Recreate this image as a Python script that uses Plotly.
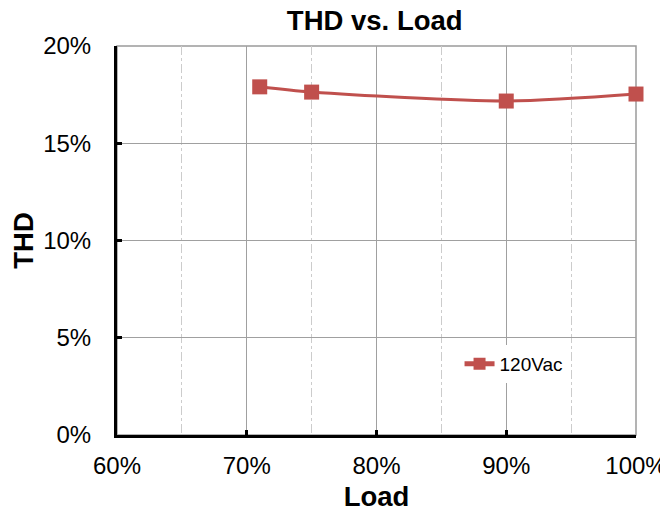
import plotly.graph_objects as go

load = [0.71, 0.75, 0.90, 1.00]
thd_120vac = [0.179, 0.1763, 0.1717, 0.1753]
series_name = "120Vac"
x_ticks = [0.6, 0.7, 0.8, 0.9, 1.0]
y_ticks = [0.0, 0.05, 0.10, 0.15, 0.20]

RED = "#C0504D"
FONT = "Arial, Liberation Sans, sans-serif"

fig = go.Figure()
fig.add_trace(go.Scatter(
    x=load, y=thd_120vac, name=series_name, mode="lines+markers",
    line=dict(color=RED, width=3, shape="spline", smoothing=0.8),
    marker=dict(symbol="square", size=15, color=RED),
    cliponaxis=False,
))

fig.update_layout(
    width=668, height=513,
    margin=dict(l=109, r=40, t=38, b=86, autoexpand=False),
    paper_bgcolor="white", plot_bgcolor="white",
    font=dict(family=FONT, color="black"),
    title=dict(text="<b>THD vs. Load</b>", x=0.549, xanchor="center", xref="container",
               y=0.9755, yanchor="middle", yref="container",
               font=dict(size=27.5, family=FONT, color="black")),
    showlegend=True,
    legend=dict(x=0.66, xanchor="left", y=0.183, yanchor="middle",
                bgcolor="white", borderwidth=0, itemsizing="constant",
                font=dict(size=19, family=FONT, color="black")),
    shapes=[
        dict(type="rect", xref="paper", yref="paper", x0=0, x1=1, y0=0, y1=1,
             line=dict(color="#9a9a9a", width=1.5), layer="below"),
    ],
)

fig.update_xaxes(
    range=[0.6, 1.0], tickvals=x_ticks, tickformat=".0%",
    showline=True, linecolor="black", linewidth=3,
    ticks="inside", ticklen=5, tickwidth=3, tickcolor="black",
    showgrid=True, gridcolor="#a0a0a0", gridwidth=1,
    minor=dict(dtick=0.05, showgrid=True, gridcolor="#cccccc", griddash="dashdot", gridwidth=1),
    tickfont=dict(size=24, family=FONT, color="black"),
    ticklabelstandoff=7, automargin=False,
    zeroline=False,
    title=dict(text="<b>Load</b>", font=dict(size=27.5, family=FONT, color="black"), standoff=9),
)
fig.update_yaxes(
    range=[0, 0.2], tickvals=y_ticks, tickformat=".0%",
    showline=True, linecolor="black", linewidth=3,
    ticks="inside", ticklen=5, tickwidth=3, tickcolor="black",
    showgrid=True, gridcolor="#a0a0a0", gridwidth=1,
    tickfont=dict(size=24, family=FONT, color="black"),
    ticklabelstandoff=18, automargin=False,
    zeroline=False,
    title=dict(text="<b>THD</b>", font=dict(size=27.5, family=FONT, color="black"), standoff=5),
)

fig.write_html("out.html")
